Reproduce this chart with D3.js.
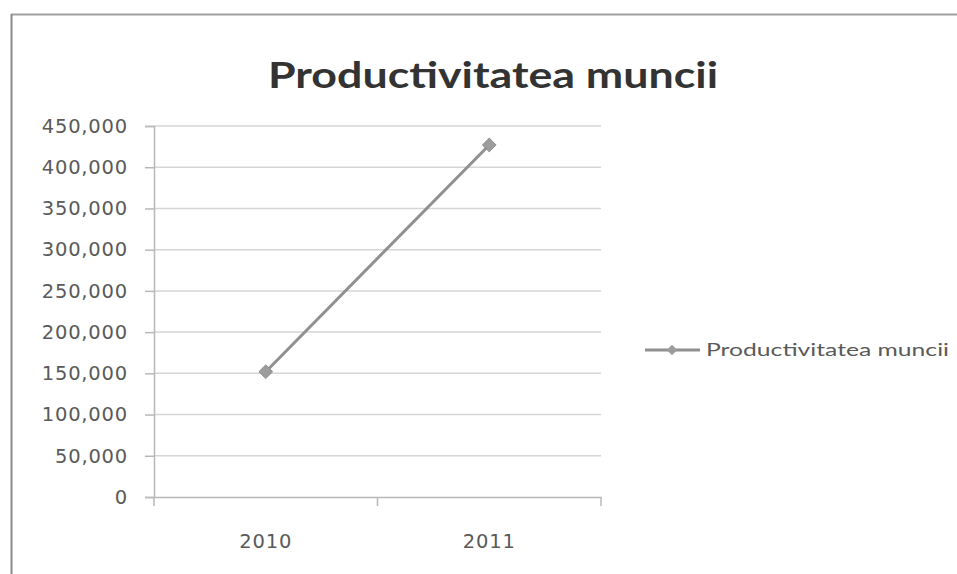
<!DOCTYPE html>
<html><head><meta charset="utf-8">
<script src="https://cdn.jsdelivr.net/npm/d3@7"></script>
<style>body{margin:0;background:#fff}svg{display:block}</style>
</head><body><svg id="c" width="957" height="574"></svg>
<script>
const categories = ["2010", "2011"];
const seriesName = "Productivitatea muncii";
const values = [152000, 427000];
const yTicks = [0, 50000, 100000, 150000, 200000, 250000, 300000, 350000, 400000, 450000];
const title = "Productivitatea muncii";

const svg = d3.select("#c");
const font = "Lato, 'Open Sans', sans-serif";
const axisFont = "'DejaVu Sans', Verdana, sans-serif";
const m = {left: 154, right: 601, top: 126, bottom: 497};

// outer frame
svg.append("line").attr("x1", 11).attr("x2", 957).attr("y1", 14.5).attr("y2", 14.5).attr("stroke", "#a0a0a0").attr("stroke-width", 2);
svg.append("line").attr("x1", 11.5).attr("x2", 11.5).attr("y1", 14).attr("y2", 574).attr("stroke", "#8a8a8a").attr("stroke-width", 2);

const x = d3.scaleBand().domain(categories).range([m.left, m.right]);
const y = d3.scaleLinear().domain([0, 450000]).range([m.bottom, m.top]);

// gridlines
svg.append("g").selectAll("line").data(yTicks.filter(d => d > 0)).join("line")
  .attr("x1", m.left).attr("x2", m.right)
  .attr("y1", d => y(d)).attr("y2", d => y(d))
  .attr("stroke", "#d6d6d6").attr("stroke-width", 1.5);

// y axis
const yAxis = svg.append("g").attr("transform", `translate(${m.left},0)`)
  .call(d3.axisLeft(y).tickValues(yTicks).tickFormat(d3.format(",")).tickSize(9).tickPadding(17));
yAxis.select(".domain").attr("stroke", "#b8b8b8").attr("stroke-width", 1.5);
yAxis.selectAll(".tick line").attr("stroke", "#b8b8b8").attr("stroke-width", 1.5);
yAxis.selectAll("text").attr("font-family", axisFont).attr("font-size", 19.5).attr("fill", "#5a5a5a")
  .attr("letter-spacing", 0.8);

// x axis
const xAxis = svg.append("g").attr("transform", `translate(0,${m.bottom})`)
  .call(d3.axisBottom(x).tickSize(0).tickPadding(37));
xAxis.select(".domain").attr("stroke", "#b8b8b8").attr("stroke-width", 1.5);
xAxis.selectAll("text").attr("font-family", axisFont).attr("font-size", 19.5).attr("fill", "#5a5a5a")
  .attr("letter-spacing", 0.8);
// category boundary ticks
const bounds = [m.left, ...categories.map(c => x(c) + x.bandwidth())];
xAxis.append("g").selectAll("line").data(bounds).join("line")
  .attr("x1", d => d).attr("x2", d => d).attr("y1", 0).attr("y2", 9)
  .attr("stroke", "#b8b8b8").attr("stroke-width", 1.5);

// line
const cx = d => x(d) + x.bandwidth() / 2;
const lineColor = "#909090";
svg.append("path").datum(categories.map((c, i) => [cx(c), y(values[i])]))
  .attr("d", d3.line()).attr("fill", "none").attr("stroke", lineColor).attr("stroke-width", 3);
const diamond = d3.symbol().type(d3.symbolDiamond2).size(120);
svg.append("g").selectAll("path").data(categories).join("path")
  .attr("d", diamond).attr("transform", (c, i) => `translate(${cx(c)},${y(values[i])})`)
  .attr("fill", "#9c9c9c").attr("stroke", "#8e8e8e").attr("stroke-width", 1);

// title
svg.append("text").attr("x", 493).attr("y", 88).attr("text-anchor", "middle")
  .attr("font-family", font).attr("font-weight", "bold").attr("font-size", 37).attr("fill", "#333")
  .attr("textLength", 450).attr("lengthAdjust", "spacingAndGlyphs").text(title);

// legend
const lg = svg.append("g").attr("transform", "translate(645,350)");
lg.append("line").attr("x1", 0).attr("x2", 55).attr("y1", 0).attr("y2", 0).attr("stroke", lineColor).attr("stroke-width", 3);
lg.append("path").attr("d", d3.symbol().type(d3.symbolDiamond2).size(70)).attr("transform", "translate(27,0)").attr("fill", "#9c9c9c");
lg.append("text").attr("x", 61).attr("y", 6).attr("font-family", font).attr("font-size", 18).attr("fill", "#5a5a5a")
  .attr("textLength", 243).attr("lengthAdjust", "spacingAndGlyphs").text(seriesName);
</script></body></html>
